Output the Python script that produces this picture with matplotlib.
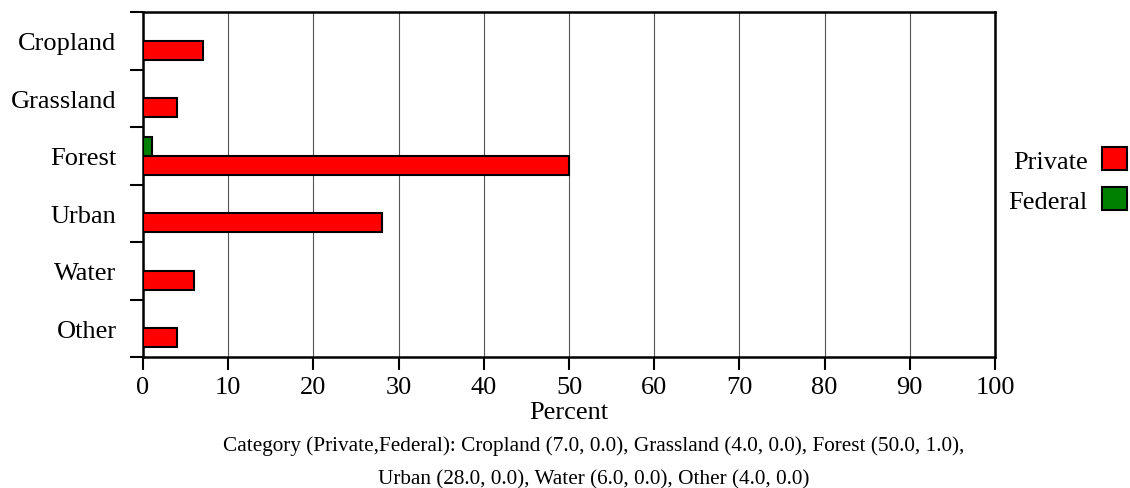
import matplotlib
matplotlib.use("Agg")
import matplotlib.pyplot as plt
from matplotlib.patches import Patch
import numpy as np

categories = ["Cropland", "Grassland", "Forest", "Urban", "Water", "Other"]
private = [7.0, 4.0, 50.0, 28.0, 6.0, 4.0]
federal = [0.0, 0.0, 1.0, 0.0, 0.0, 0.0]
xticks = [0, 10, 20, 30, 40, 50, 60, 70, 80, 90, 100]
caption = ("Category (Private,Federal): Cropland (7.0, 0.0), Grassland (4.0, 0.0), Forest (50.0, 1.0),\n"
           "Urban (28.0, 0.0), Water (6.0, 0.0), Other (4.0, 0.0)")

plt.rcParams['font.family'] = ['Liberation Serif', 'DejaVu Serif']

W, H = 1130, 489
fig = plt.figure(figsize=(W / 100, H / 100), dpi=100)
L, R, T, B = 143, 995, 13, 358
ax = fig.add_axes([L / W, (H - B) / H, (R - L) / W, (B - T) / H])

y = np.arange(len(categories))
h = 1 / 3
ax.barh(y + h / 2, private, height=h, color="#ff0000", edgecolor="black", linewidth=1.5, zorder=3)
ax.barh(y - h / 2, federal, height=h, color="#008000", edgecolor="black", linewidth=1.5, zorder=3)

ax.set_xlim(0, 100)
ax.set_ylim(len(categories) - 0.5, -0.5)
ax.set_xticks(xticks)
ax.set_xticklabels([str(v) for v in xticks], fontsize=19)
ax.set_yticks(np.arange(len(categories) + 1) - 0.5)
ax.set_yticklabels([])
ax.set_yticks(y, minor=True)
ax.set_yticklabels(categories, minor=True, fontsize=19)
ax.tick_params(axis='y', which='major', direction='out', length=9.5, width=1.5)
ax.tick_params(axis='y', which='minor', length=0, pad=19)
ax.tick_params(axis='x', direction='out', length=9.5, width=1.5, pad=4)
ax.xaxis.grid(True, color="#555555", linewidth=0.8, zorder=0)
ax.set_axisbelow(True)
for s in ax.spines.values():
    s.set_linewidth(1.8)
ax.set_xlabel("Percent", fontsize=19, labelpad=2.5)

handles = [Patch(facecolor="#ff0000", edgecolor="black", linewidth=1.5, label="Private"),
           Patch(facecolor="#008000", edgecolor="black", linewidth=1.5, label="Federal")]
fig.legend(handles=handles, loc="center right", bbox_to_anchor=(1.0, 1 - 181 / H),
           frameon=False, markerfirst=False, fontsize=19, handlelength=0.95, handleheight=0.95,
           handletextpad=0.55, labelspacing=0.55, borderpad=0.0, borderaxespad=0.1)

fig.text(594 / W, 1 - 463 / H, caption, ha="center", va="center", fontsize=15.3,
         linespacing=1.95)

fig.savefig("out.png", dpi=100)
